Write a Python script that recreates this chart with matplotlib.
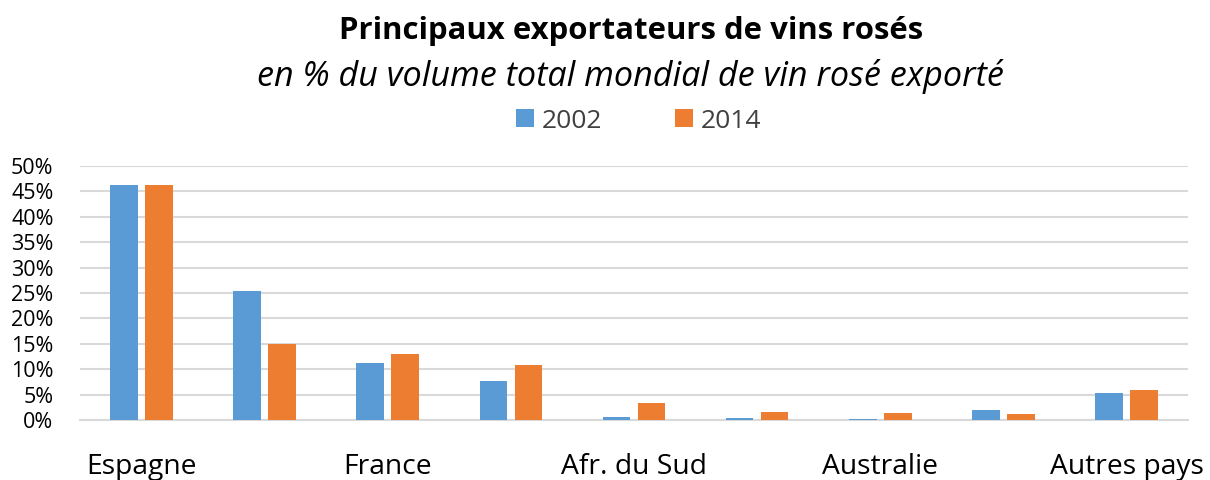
import matplotlib
matplotlib.use("Agg")
import matplotlib.pyplot as plt
import numpy as np
from matplotlib.ticker import FuncFormatter, MultipleLocator

categories = ["Espagne", "", "France", "", "Afr. du Sud", "", "Australie", "", "Autres pays"]
series_names = ["2002", "2014"]
values_2002 = [46.2, 25.4, 11.3, 7.6, 0.5, 0.3, 0.2, 1.9, 5.4]
values_2014 = [46.2, 14.9, 13.0, 10.9, 3.3, 1.6, 1.3, 1.2, 6.0]
colors = ["#5B9BD5", "#ED7D31"]

plt.rcParams['font.family'] = ['Open Sans', 'DejaVu Sans']

fig = plt.figure(figsize=(12.1, 4.8), dpi=100)
ax = fig.add_axes([80/1210, 1 - 420/480, (1188-80)/1210, (420-166)/480])

x = np.arange(len(categories))
w = 0.225
off = 0.142
ax.bar(x - off, values_2002, width=w, color=colors[0], label=series_names[0], zorder=3)
ax.bar(x + off, values_2014, width=w, color=colors[1], label=series_names[1], zorder=3)

ax.set_xlim(-0.5, len(categories) - 0.5)
ax.set_ylim(0, 50)
ax.yaxis.set_major_locator(MultipleLocator(5))
ax.yaxis.set_major_formatter(FuncFormatter(lambda v, p: f"{int(round(v))}%"))
ax.grid(axis='y', color='#D9D9D9', linewidth=1.5, zorder=0)
for s in ['top', 'right', 'left']:
    ax.spines[s].set_visible(False)
ax.spines['bottom'].set_color('#D9D9D9')
ax.spines['bottom'].set_linewidth(1.5)
ax.tick_params(axis='y', length=0, labelsize=15.5, pad=19)
ax.tick_params(axis='x', length=0, labelsize=20.3, pad=24)
ax.set_xticks(x)
ax.set_xticklabels(categories)

fig.text(631/1210, 1 - 31/480, "Principaux exportateurs de vins rosés", ha='center', va='center',
         fontsize=22.4, fontweight='bold')
fig.text(630/1210, 1 - 77/480, "en % du volume total mondial de vin rosé exporté", ha='center', va='center',
         fontsize=24.6, style='italic')
fig.legend(loc='center', bbox_to_anchor=(638.5/1210, 1 - 121/480), ncol=2, frameon=False,
           fontsize=19, handlelength=0.68, handleheight=0.68, columnspacing=2.75, handletextpad=0.3,
           labelcolor='#404040')

fig.savefig("out.png", dpi=100)
